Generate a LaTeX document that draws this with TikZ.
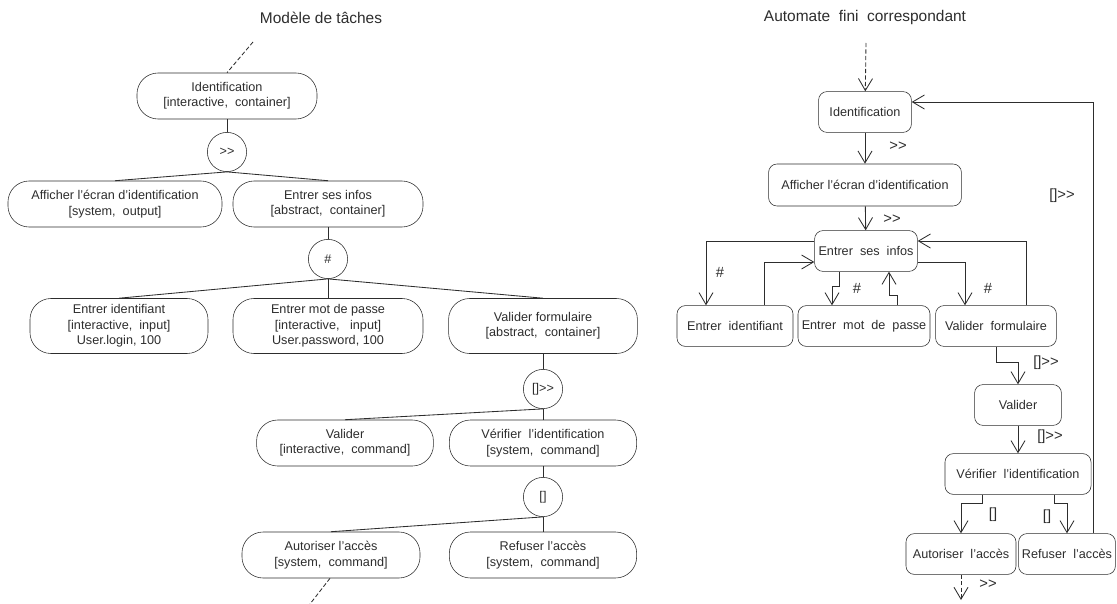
\documentclass[tikz,border=0pt]{standalone}
\usepackage{fontspec}
\setmainfont{Liberation Sans}
\usepackage{tikz}
\usetikzlibrary{shapes, arrows.meta, positioning, calc}
\definecolor{linegray}{RGB}{45, 45, 45}

\begin{document}
\begin{tikzpicture}[
  x=0.025cm, y=-0.025cm,
  every node/.style={text=linegray},
  task/.style={rectangle, draw=linegray, rounded corners=15pt, align=center,
               minimum height=1.15cm, inner sep=1pt, font=\fontsize{9}{10.9}\selectfont},
  tall/.style={minimum height=1.375cm},
  op/.style={circle, draw=linegray, minimum size=0.98cm, inner sep=0pt,
             font=\fontsize{9}{10.9}\selectfont},
  state/.style={rectangle, draw=linegray, rounded corners=6pt, align=center,
                minimum height=1.02cm, inner sep=1pt, font=\fontsize{9}{10.9}\selectfont},
  lbl/.style={inner sep=0pt, font=\fontsize{10.5}{12}\selectfont},
  title/.style={inner sep=0pt, font=\fontsize{11}{13}\selectfont},
  link/.style={draw=linegray, line width=0.6pt},
  dashline/.style={dash pattern=on 3pt off 1.6pt},
  arr/.style={link, -{Straight Barb[length=8.5pt, width=10pt]}}
]
  \useasboundingbox (0,0) rectangle (1117,604);

  % task model
  \node[title] (titleL) at (321,18) {Modèle de tâches};
  \node[task, minimum width=4.5cm] (idL) at (227,96) {Identification\\{[}interactive,\ \ container]};
  \node[op] (seqL) at (227,152) {>{}>};
  \node[task, minimum width=5.35cm] (affL) at (115,204) {Afficher l'écran d'identification\\{[}system,\ \ output]};
  \node[task, minimum width=4.75cm] (entL) at (328,204) {Entrer ses infos\\{[}abstract,\ \ container]};
  \node[op] (parL) at (328,259) {\#};
  \node[task, tall, minimum width=4.45cm] (eidL) at (119,326) {Entrer identifiant\\{[}interactive,\ \ input]\\User.login, 100};
  \node[task, tall, minimum width=4.75cm] (mdpL) at (328,326) {Entrer mot de passe\\{[}interactive,\ \ \ input]\\User.password, 100};
  \node[task, tall, minimum width=4.72cm] (vfL) at (543,326) {Valider formulaire\\{[}abstract,\ \ container]};
  \node[op] (dsqL) at (543,389) {{[}]>{}>};
  \node[task, minimum width=4.42cm] (valL) at (345,443) {Valider\\{[}interactive,\ \ command]};
  \node[task, minimum width=4.68cm] (verL) at (543,443) {Vérifier\ \ l'identification\\{[}system,\ \ command]};
  \node[op] (choL) at (543,497) {{[}]};
  \node[task, minimum width=4.45cm] (autL) at (331,555) {Autoriser l'accès\\{[}system,\ \ command]};
  \node[task, minimum width=4.68cm] (refL) at (543,555) {Refuser l'accès\\{[}system,\ \ command]};
  \coordinate (inL) at (253,42);
  \coordinate (outL) at (310,604);

  \draw[link, dashline] (inL) -- (idL.north);
  \draw[link] (idL) -- (seqL);
  \draw[link] (seqL.south) -- (affL.north);
  \draw[link] (seqL.south) -- (entL.north);
  \draw[link] (entL) -- (parL);
  \draw[link] (parL.south) -- (eidL.north);
  \draw[link] (parL.south) -- (mdpL.north);
  \draw[link] (parL.south) -- (vfL.north);
  \draw[link] (vfL) -- (dsqL);
  \draw[link] (dsqL.south) -- (valL.north);
  \draw[link] (dsqL.south) -- (verL.north);
  \draw[link] (verL) -- (choL);
  \draw[link] (choL.south) -- (autL.north);
  \draw[link] (choL.south) -- (refL.north);
  \draw[link, dashline] ($(autL.south)+(-1,0)$) -- (outL);

  % finite automaton
  \node[title] (titleR) at (865,18) {Automate\ \ fini\ \ correspondant};
  \node[state, minimum width=2.32cm] (idR) at (865,112) {Identification};
  \node[state, minimum width=4.82cm, minimum height=1.05cm] (affR) at (865,185) {Afficher l'écran d'identification};
  \node[state, minimum width=2.57cm] (entR) at (866,251) {Entrer\ \ ses\ \ infos};
  \node[state, minimum width=2.9cm] (eidR) at (735,326) {Entrer\ \ identifiant};
  \node[state, minimum width=3.3cm] (mdpR) at (864,326) {Entrer\ \ mot\ \ de\ \ passe};
  \node[state, minimum width=3.02cm] (vfR) at (996,326) {Valider\ \ formulaire};
  \node[state, minimum width=2.17cm] (valR) at (1018,405) {Valider};
  \node[state, minimum width=3.65cm] (verR) at (1018,474) {Vérifier\ \ l'identification};
  \node[state, minimum width=2.75cm] (autR) at (961,554) {Autoriser\ \ l'accès};
  \node[state, minimum width=2.42cm] (refR) at (1067,554) {Refuser\ \ l'accès};
  \coordinate (inR) at (866,43);
  \coordinate (outR) at (961,600);

  \draw[arr, dashline] (inR) -- (idR);
  \draw[arr] (idR) -- (affR);
  \draw[arr] (affR) -- (entR);
  \draw[arr] ($(entR.west)+(0,-10)$) -| ($(eidR.north)+(-29,0)$);
  \draw[arr] ($(eidR.north)+(29,0)$) |- ($(entR.west)+(0,11)$);
  \draw[arr] ($(entR.south)+(-27,0)$) -- ++(0,15) -| ($(mdpR.north)+(-32,0)$);
  \draw[arr] ($(mdpR.north)+(33,0)$) -- ++(0,-10) -| ($(entR.south)+(23,0)$);
  \draw[arr] ($(entR.east)+(0,11)$) -| ($(vfR.north)+(-31,0)$);
  \draw[arr] ($(vfR.north)+(30,0)$) |- ($(entR.east)+(0,-10)$);
  \draw[arr] (vfR.south) -- ++(0,16) -| (valR.north);
  \draw[arr] (valR) -- (verR);
  \draw[arr] ($(verR.south)+(-36,0)$) -- ++(0,9) -| (autR.north);
  \draw[arr] ($(verR.south)+(36,0)$) -- ++(0,9) -| (refR.north);
  \draw[arr] ($(refR.north)+(26,0)$) |- ($(idR.east)+(0,-10)$);
  \draw[arr, dashline] (autR) -- (outR);

  \node[lbl] (l1) at (898,146) {>{}>};
  \node[lbl] (l2) at (892,219) {>{}>};
  \node[lbl] (l3) at (1062,196) {{[}]>{}>};
  \node[lbl] (l4) at (720,272) {\#};
  \node[lbl] (l5) at (857,288) {\#};
  \node[lbl] (l6) at (988,288) {\#};
  \node[lbl] (l7) at (1046,363) {{[}]>{}>};
  \node[lbl] (l8) at (1050,437) {{[}]>{}>};
  \node[lbl] (l9) at (993,515) {{[}]};
  \node[lbl] (l10) at (1047,517) {{[}]};
  \node[lbl] (l11) at (988,584) {>{}>};
\end{tikzpicture}
\end{document}
